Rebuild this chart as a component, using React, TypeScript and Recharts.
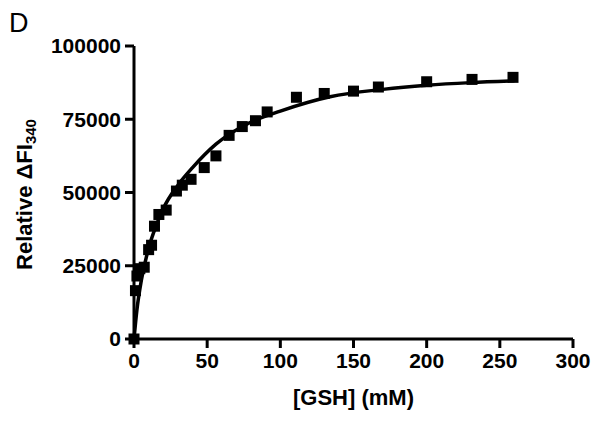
import { ComposedChart, Scatter, Line, XAxis, YAxis } from 'recharts';

// measured points: [GSH] (mM) vs relative ΔFI340
const gshConc = [0, 1, 2, 4, 7, 10, 12, 14, 17, 22, 29, 33, 39, 48, 56, 65, 74, 83, 91, 111, 130, 150, 167, 200, 231, 259];
const deltaFI = [0, 16500, 21500, 24000, 24500, 30500, 32000, 38500, 42500, 44000, 50500, 52500, 54500, 58500, 62500, 69500, 72500, 74500, 77500, 82500, 83800, 84600, 86000, 87800, 88600, 89300];

// fitted binding curve
const fitX = [0, 2, 5, 10, 15, 20, 30, 40, 56, 79, 100, 134, 170, 200, 230, 260];
const fitY = [0, 10000, 20000, 31000, 38500, 44500, 52500, 58500, 66500, 73800, 77800, 82700, 85200, 86600, 87500, 88100];

const xTicks = [0, 50, 100, 150, 200, 250, 300];
const yTicks = [0, 25000, 50000, 75000, 100000];

const points = gshConc.map((x, i) => ({ x, y: deltaFI[i] }));
const fit = fitX.map((x, i) => ({ x, y: fitY[i] }));

const FONT = '"Liberation Sans", Arial, sans-serif';
const tickStyle = { fill: '#000', fontSize: 21, fontWeight: 700, fontFamily: FONT };

const Square = (props: any) => {
  const { cx, cy } = props;
  if (cx == null || cy == null) return null;
  return <rect x={cx - 5.5} y={cy - 5.5} width={11} height={11} fill="#000" />;
};

const YTitle = (props: any) => {
  const vb = props.viewBox || {};
  const cy = vb.y + vb.height / 2 + 2;
  const cx = 24;
  return (
    <text
      x={cx}
      y={cy}
      transform={`rotate(-90, ${cx}, ${cy})`}
      textAnchor="middle"
      dominantBaseline="central"
      fill="#000"
      fontFamily={FONT}
      fontWeight={700}
      fontSize={22}
    >
      Relative ΔFI
      <tspan fontSize={15} dy={6}>340</tspan>
    </text>
  );
};

export default function App() {
  return (
    <div style={{ position: 'absolute', left: 0, top: 0, width: 600, height: 423, background: '#fff' }}>
      <svg width={600} height={423} style={{ position: 'absolute', left: 0, top: 0, pointerEvents: 'none' }}>
        <text x={9} y={32} fontFamily={FONT} fontSize={27} fill="#000">D</text>
      </svg>
      <ComposedChart width={600} height={423} margin={{ top: 46, right: 27, bottom: 0, left: 0 }}>
        <XAxis
          dataKey="x"
          type="number"
          domain={[0, 300]}
          ticks={xTicks}
          interval={0}
          height={84}
          tick={tickStyle}
          tickSize={9}
          tickMargin={5}
          axisLine={{ stroke: '#000', strokeWidth: 3 }}
          tickLine={{ stroke: '#000', strokeWidth: 3 }}
          label={{ value: '[GSH] (mM)', position: 'insideBottom', offset: 18, fill: '#000', fontSize: 22, fontWeight: 700, fontFamily: FONT }}
        />
        <YAxis
          dataKey="y"
          type="number"
          domain={[0, 100000]}
          ticks={yTicks}
          interval={0}
          width={134}
          tick={tickStyle}
          tickSize={9}
          tickMargin={4}
          axisLine={{ stroke: '#000', strokeWidth: 3 }}
          tickLine={{ stroke: '#000', strokeWidth: 3 }}
          label={<YTitle />}
        />
        <Line
          data={fit}
          dataKey="y"
          type="monotone"
          stroke="#000"
          strokeWidth={3.5}
          dot={false}
          activeDot={false}
          isAnimationActive={false}
        />
        <Scatter data={points} dataKey="y" shape={<Square />} isAnimationActive={false} />
      </ComposedChart>
    </div>
  );
}
